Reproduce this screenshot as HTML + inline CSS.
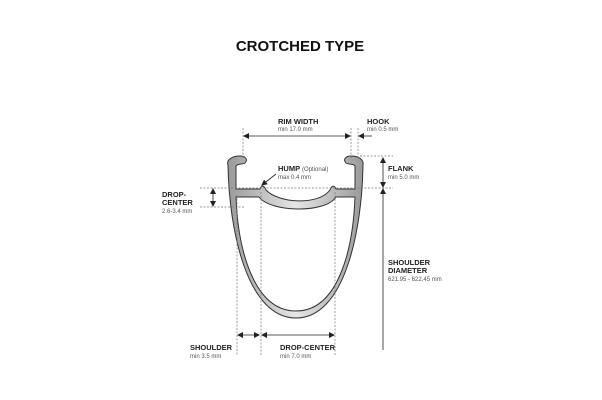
<!DOCTYPE html>
<html><head><meta charset="utf-8"><style>
html,body{margin:0;padding:0;background:#fff}
svg{display:block}
text{font-family:"Liberation Sans",sans-serif;fill:#222}
.b{font-weight:bold;font-size:7.5px}
.s{font-size:6px;fill:#555}
</style></head><body>
<svg width="602" height="400" viewBox="0 0 602 400" xmlns="http://www.w3.org/2000/svg">
<defs>
<linearGradient id="g" x1="0" x2="1" y1="0" y2="0">
<stop offset="0" stop-color="#9a9a9a"/><stop offset="0.5" stop-color="#e6e6e6"/><stop offset="1" stop-color="#9a9a9a"/>
</linearGradient>
<marker id="a" markerWidth="6" markerHeight="6" refX="5" refY="3" orient="auto-start-reverse" markerUnits="userSpaceOnUse"><path d="M0,0L6,3L0,6z" fill="#222"/></marker>
</defs>
<text x="300" y="51" text-anchor="middle" style="font-weight:bold;font-size:15px;fill:#111">CROTCHED TYPE</text>

<!-- rim shell -->
<path fill="url(#g)" stroke="#333" stroke-width="1" fill-rule="evenodd" d="
M228,165 C226,160 232,156 240,156 C246,156 248,160 245,163 C242,165 238,163 236,166 L236,189 L260,189 C262,184 264,186 266,190 C278,203 318,206 330,190 C332,185 334,185 336,189 L355,189 L355,166 C353,163 349,165 346,163 C343,160 345,156 351,156 C359,156 364,160 363,165
C362,230 345,318 296,318 C247,318 229,230 228,165 Z
M236,197 L259,197 C270,212 325,214 336,197 L355,197 C353,250 338,311 296,311 C254,311 238,250 236,197 Z"/>

<g stroke="#777" stroke-width="0.7" stroke-dasharray="2,1.5" fill="none">
<line x1="243" y1="128" x2="243" y2="158"/>
<line x1="351" y1="128" x2="351" y2="158"/>
<line x1="358" y1="128" x2="358" y2="158"/>
<line x1="237" y1="195" x2="237" y2="356"/>
<line x1="261" y1="192" x2="261" y2="356"/>
<line x1="335" y1="192" x2="335" y2="356"/>
<line x1="200" y1="188" x2="393" y2="188"/>
<line x1="200" y1="207" x2="245" y2="207"/>
<line x1="360" y1="156" x2="393" y2="156"/>
</g>
<g stroke="#222" stroke-width="0.8" fill="none">
<line x1="244" y1="136" x2="350" y2="136" marker-start="url(#a)" marker-end="url(#a)"/>
<line x1="372" y1="136" x2="359" y2="136" marker-end="url(#a)"/>
<line x1="383" y1="158" x2="383" y2="187" marker-start="url(#a)" marker-end="url(#a)"/>
<line x1="383" y1="189" x2="383" y2="350" marker-start="url(#a)"/>
<line x1="213" y1="189" x2="213" y2="206" marker-start="url(#a)" marker-end="url(#a)"/>
<line x1="238" y1="335" x2="259" y2="335" marker-start="url(#a)" marker-end="url(#a)"/>
<line x1="262" y1="335" x2="334" y2="335" marker-start="url(#a)" marker-end="url(#a)"/>
<line x1="276" y1="174" x2="262" y2="185" marker-end="url(#a)"/>
</g>

<text class="b" x="278" y="124">RIM WIDTH</text><text class="s" x="278" y="131">min 17.0 mm</text>
<text class="b" x="367" y="124">HOOK</text><text class="s" x="367" y="131">min 0.5 mm</text>
<text class="b" x="278" y="171">HUMP <tspan style="font-weight:normal;font-size:6px;fill:#555">(Optional)</tspan></text><text class="s" x="278" y="179">max 0.4 mm</text>
<text class="b" x="388" y="171">FLANK</text><text class="s" x="388" y="179">min 5.0 mm</text>
<text class="b" x="162" y="197">DROP-</text><text class="b" x="162" y="205">CENTER</text><text class="s" x="162" y="213">2.6-3.4 mm</text>
<text class="b" x="388" y="265">SHOULDER</text><text class="b" x="388" y="273">DIAMETER</text><text class="s" x="388" y="281">621.95 - 622,45 mm</text>
<text class="b" x="190" y="350">SHOULDER</text><text class="s" x="190" y="358">min 3.5 mm</text>
<text class="b" x="280" y="350">DROP-CENTER</text><text class="s" x="280" y="358">min 7.0 mm</text>
</svg>
</body></html>
